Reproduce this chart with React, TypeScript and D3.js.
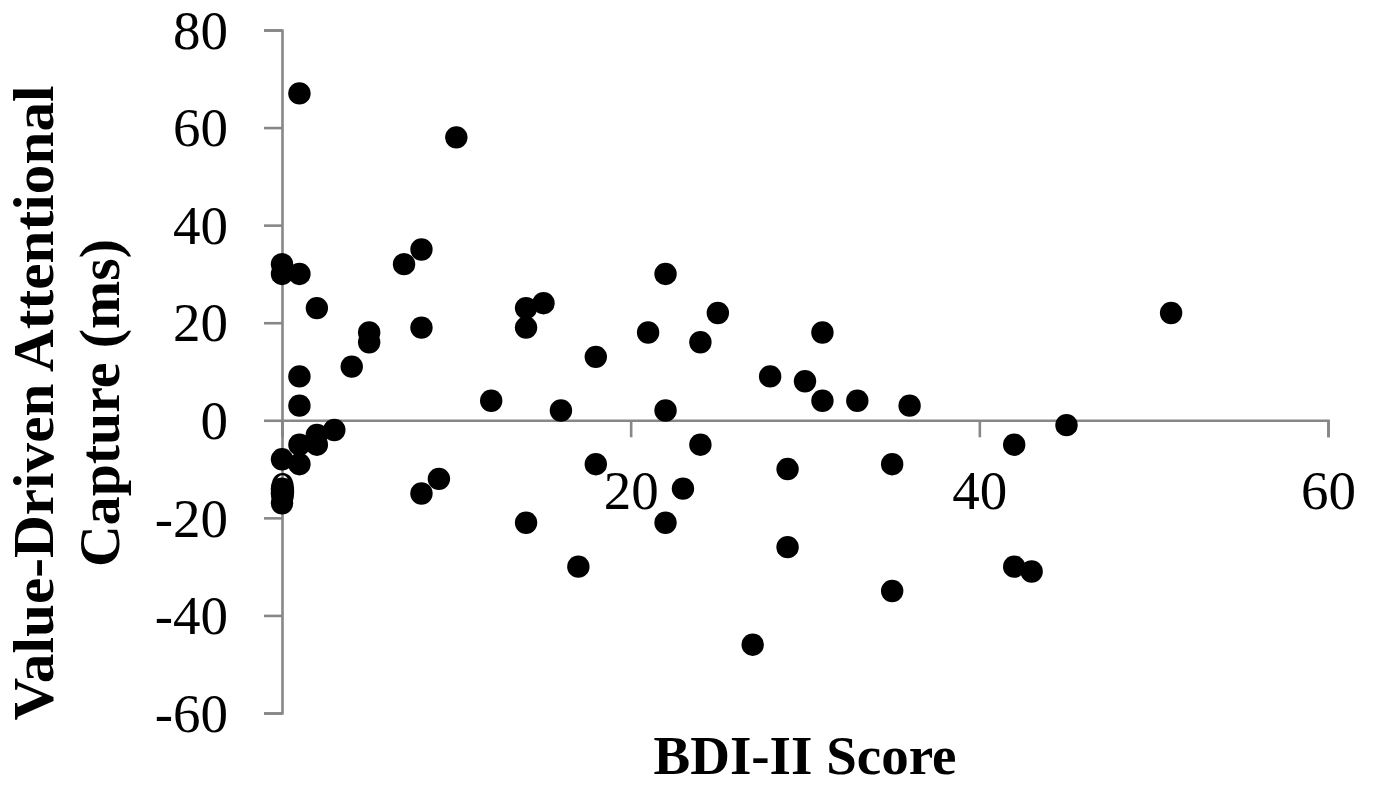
import { useRef, useEffect } from 'react';
import * as d3 from 'd3';

// BDI-II score vs value-driven attentional capture (ms)
const bdiScores = [
  1, 10, 0, 0, 1, 2, 7, 8, 5, 5, 4, 8, 1, 1, 0, 1, 1, 2, 2, 3,
  0, 0, 0, 8, 9, 12, 14, 14, 15, 14, 16, 17, 18, 18, 21, 22, 22, 22, 23, 24,
  24, 25, 27, 28, 29, 29, 30, 31, 31, 33, 35, 35, 36, 42, 42, 43, 45, 51,
];
const captureMs = [
  67, 58, 32, 30, 30, 23, 32, 35, 18, 16, 11, 19, 9, 3, -8, -5, -9, -3, -5, -2,
  -14, -15, -17, -15, -12, 4, 23, 19, 24, -21, 2, -30, 13, -9, 18, 30, 2, -21, -14, 16,
  -5, 22, -46, 9, -10, -26, 8, 18, 4, 4, -9, -35, 3, -5, -30, -31, -1, 22,
];

const xTicks = [0, 20, 40, 60];
const yTicks = [-60, -40, -20, 0, 20, 40, 60, 80];

const xTitle = 'BDI-II Score';
const yTitleLines = ['Value-Driven Attentional', 'Capture (ms)'];

const W = 1379;
const H = 785;

export default function App() {
  const svgRef = useRef<SVGSVGElement | null>(null);

  useEffect(() => {
    if (!svgRef.current) return;
    const svg = d3.select(svgRef.current);
    svg.selectAll('*').remove();

    const axisColor = '#878787';
    const tickFont = '"Liberation Serif", "Times New Roman", serif';
    const plain = (d: d3.NumberValue) => String(d); // hyphen, not unicode minus

    const x = d3.scaleLinear().domain([0, 60]).range([282, 1328]);
    const y = d3.scaleLinear().domain([-60, 80]).range([713, 30]);

    // y axis, drawn at x = 0
    const gy = svg.append('g')
      .attr('transform', `translate(${x(0)},0)`)
      .call(d3.axisLeft(y).tickValues(yTicks).tickSize(18).tickPadding(36).tickFormat(plain));

    // x axis, drawn at y = 0
    const gx = svg.append('g')
      .attr('transform', `translate(0,${y(0)})`)
      .call(d3.axisBottom(x).tickValues(xTicks).tickSize(17).tickFormat(plain));

    [gx, gy].forEach(g => {
      g.select('.domain').attr('stroke', axisColor).attr('stroke-width', 2.6);
      g.selectAll('.tick line').attr('stroke', axisColor).attr('stroke-width', 2.6);
      g.selectAll('.tick text')
        .attr('fill', '#000')
        .attr('font-family', tickFont)
        .attr('font-size', 55);
    });
    gy.selectAll('.tick text').attr('dy', '0.33em');
    gx.selectAll('.tick text').attr('y', 89).attr('dy', 0);

    // points
    svg.append('g')
      .selectAll('circle')
      .data(bdiScores.map((b, i) => ({ b, c: captureMs[i] })))
      .join('circle')
      .attr('cx', d => x(d.b))
      .attr('cy', d => y(d.c))
      .attr('r', 11.2)
      .attr('fill', '#000');

    // x title
    svg.append('text')
      .attr('x', 805)
      .attr('y', 774)
      .attr('text-anchor', 'middle')
      .attr('font-family', tickFont)
      .attr('font-weight', 'bold')
      .attr('font-size', 55)
      .attr('fill', '#000')
      .text(xTitle);

    // y title, two lines
    const yt = svg.append('g').attr('transform', 'translate(53,403) rotate(-90)');
    const lens = [635, 328];
    yTitleLines.forEach((line, i) => {
      yt.append('text')
        .attr('x', 0)
        .attr('y', i * 66)
        .attr('text-anchor', 'middle')
        .attr('font-family', tickFont)
        .attr('font-weight', 'bold')
        .attr('font-size', 58)
        .attr('textLength', lens[i])
        .attr('lengthAdjust', 'spacingAndGlyphs')
        .attr('fill', '#000')
        .text(line);
    });
  }, []);

  return (
    <svg
      ref={svgRef}
      width={W}
      height={H}
      style={{ position: 'absolute', left: 0, top: 0, background: '#fff' }}
    />
  );
}
